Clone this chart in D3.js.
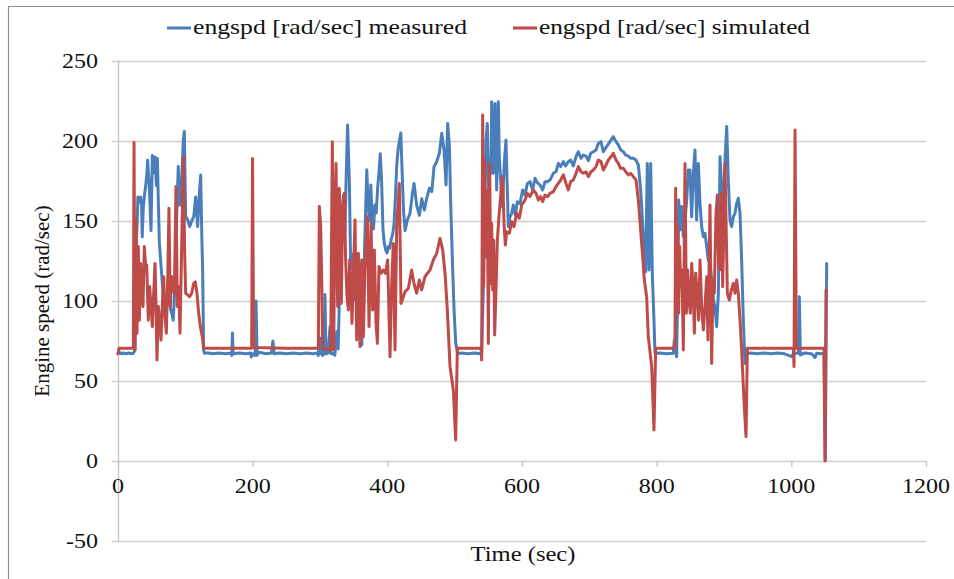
<!DOCTYPE html>
<html>
<head>
<meta charset="utf-8">
<script src="https://cdn.jsdelivr.net/npm/d3@7"></script>
<style>
  html, body { margin: 0; padding: 0; background: #fff; }
  svg { display: block; }
  text { font-family: "Liberation Serif", "Times New Roman", serif; fill: #111; }
</style>
</head>
<body>
<svg id="chart" width="954" height="579"></svg>
<script>
// Engine speed over the drive cycle: [time (sec), speed (rad/sec)]
const measuredPoints = [
  [0,67],[2,68],[5,67],[8,67.5],[12,67],[16,67.5],[20,67],[23,67.5],
  [25.2,69.4],[27,134],[28.5,150],[29.5,165],[31.5,162],[33.5,165],[35,160],[36,140],[37.5,158],[39,165],
  [41,171.5],[43,180],[44,188],[46.5,171.5],[48,155],[49,144],[51,191],[53,180],[55,190],[57,172],
  [58.5,189],[60,160],[61.5,136],[64,121.5],[67,105],[70,94],[73,98],[76,100.6],[78,95],[80,92],
  [82,88],[84.5,109],[87,150],[89.5,184],[91.5,160],[94,170],[97,200.6],[98.5,206],[100.5,153],
  [103.5,150.6],[106.5,146.5],[109.5,150],[112.5,152.7],[115.3,165],[118.3,146.5],[120.5,165],
  [122.8,178.75],[124.5,140],[125.7,119.4],[127.2,69.4],[128.2,67.3],[130,67.5],
  [135,67.5],[140,67],[150,67.5],[160,67],[168,67.5],[169,66],[170,80],[171,67],[180,67.5],[190,67],
  [197,67.5],[198,65],[200,67],[203.5,66],[205,100],[206.5,66],[209,68],[215,67.5],[220,67],[228,67.5],
  [230,75],[232,67],[240,67.5],[250,67],[260,67.5],[270,67],[280,67.5],[290,67],[296,67.5],[297.5,66],
  [299,77],[301,67],[302.5,77],[304,66],[306,67],[307.4,104],[308.8,67],[312,67.5],[314.9,84],[316.5,67],
  [320,67],[322,66],[325,81],[327,70],[329.6,116],[332,140],[334.7,166],[337,143],[339,180],[341,210],
  [343.6,175],[345.6,120],[348.5,129],[351,115],[353,100],[355,120],[357,91],[359,110],[362,72.5],
  [364,90],[366,130],[368,160],[369.5,182],[371.5,160],[373.5,150],[375.5,172.5],[377.5,150],
  [379.5,145],[381.5,160],[383.5,155],[385.5,170],[387.5,180],[389.5,192],[391.5,175],[393.5,145],
  [395.5,136],[397.5,132],[399.5,130],[401.5,134],[403.5,133],[405.5,138],[408,142],[410,148],
  [412,165],[414,185],[416,195],[418,200],[420,205],[422,180],[424,157],[426.3,144],[429.7,150.6],
  [433.7,154.8],[437.2,167],[439.7,173.5],[443.6,159.8],[447.6,153.5],[451.1,163.9],[455,156.9],
  [458.5,164.2],[462.5,170.5],[466,168.4],[469.4,184],[473.4,187.2],[477.3,192.4],[480.8,204.8],
  [484.2,194.4],[487.2,172.5],[489.6,211],[492.2,196.5],[494.1,161],[496.6,125.6],[499.1,94.4],
  [501.6,73.5],[504.5,67],[510,67.5],[520,67],[530,67.5],[538,67],
  [540.1,67.3],[542.6,109],[545,169.4],[546.5,200.6],[548.5,211],[550.5,169.4],[552.5,190.2],
  [554,179.8],[555,224.6],[556.4,190.2],[557.4,179.8],[558.9,200.6],[559.9,223.5],[561.4,190.2],
  [562.4,169.4],[563.9,200.6],[564.8,224.6],[566.3,190.2],[568.3,175.6],[570.8,159],[572.3,173.5],
  [574.3,190.2],[576.2,200.6],[578.2,169.4],[579.7,146.5],[582.2,152.7],[584.7,154.8],[587.1,160],
  [590.1,153.75],[593.1,162.1],[597,161],[601,169.4],[604.5,166.2],[608,173.5],[611.9,174.6],
  [615.8,169.4],[619.3,176.7],[622.8,174],[626.7,172.5],[630.7,169.4],[634.2,174.6],[637.6,174.6],
  [641.6,175.6],[646.5,179.8],[650.5,180.8],[654,186],[657.4,184],[661.4,187.1],[664.8,184.4],
  [668.8,187.1],[672.3,188.1],[676.2,184.4],[680.2,190.2],[683.7,193.3],[687.6,189.2],[691.1,191.2],
  [695,190.6],[698.5,187.7],[702,192.3],[706,193.3],[709.9,194.4],[713.4,198.5],[717.3,199.6],
  [720.8,193.3],[724.8,196],[728.2,198.1],[732.2,200.6],[735.6,202.7],[739.6,199.6],[743.1,197.5],
  [746.5,194.4],[750.5,193.3],[754,191.2],[757.9,190.6],[761.4,189.2],[765.3,189.2],[769.3,188.1],
  [772.8,185],[776.2,169.4],[779.2,148.5],[781.7,127.7],[783.7,118.3],[786.1,186],[788.6,119.4],
  [791.1,186],[793.5,117.3],[796,88],[797.5,67.3],[805,67.5],[815,67],[824.8,67.3],
  [826.2,75.6],[828.2,69.4],[829.7,65.2],[831.7,119.4],[832.7,163.1],[834.7,144.4],[837.1,159],
  [839.6,140.2],[842.1,150.6],[844.6,163.1],[847,181.9],[849.5,181.9],[852,152.7],[854.5,179.8],
  [856.9,194.4],[859.4,150.6],[861.9,186],[864.4,161],[866.8,146.5],[869.3,140.2],[871.8,142.3],
  [874.3,134],[876.7,125.6],[879.2,123.5],[881.7,113.1],[884.2,100.6],[886.6,96.5],[889.1,84],
  [891.6,104.8],[894.1,190.2],[896.5,171.5],[899,156.9],[901.5,188.1],[904,209],[906.4,175.6],
  [908.9,150.6],[911.4,146.5],[913.9,152.7],[916.3,154.8],[918.8,161],[921.3,164.2],[923.8,154.8],
  [926.2,125.6],[928.7,88],[931.2,61],[933.7,67.3],
  [940,67.5],[950,67],[960,67.5],[970,67],[980,67.5],[990,67],[1000.5,65.2],[1003,67.3],[1010.4,67.3],
  [1011.9,102.7],[1013.4,66.3],[1020,67.5],[1030,67],[1035.2,64.8],[1037.6,67.3],[1045,67],
  [1048.5,67.3],[1050.5,0.6],[1052.5,123.5]
];

const simulatedPoints = [
  [0,67],[1.5,70.4],[10,70.4],[22.8,70.4],[23.8,199],[25.2,69.4],[26.7,150.6],[28.2,79.8],[30.2,134],
  [31.7,88],[33.7,123.5],[35.2,104.8],[37.1,96.5],[39.1,134],[41.1,121.5],[42.6,122.5],[45,88],
  [47,109],[49,96.5],[51,84],[53,104.8],[55,123.5],[56.4,98.5],[57.9,63.1],[59.9,96.5],[61.9,88],
  [63.9,75.6],[65.8,96.5],[67.8,115.2],[69.8,90.2],[71.8,79.8],[73.8,113.1],[75.7,157.9],[77.7,96.5],
  [79.7,115.2],[81.7,109],[83.7,104.8],[86.1,171.5],[88.1,96.5],[90.1,109],[92.1,79.8],[94.1,123.5],
  [97,190.2],[99,129.8],[100.5,104.8],[103.5,103.8],[106.4,102.7],[109.4,104.8],[112.4,111],
  [114.8,112],[117.3,104.8],[119.8,92.3],[122.3,84],[125.2,77.7],[127.2,70.4],
  [150,70.4],[198.5,70.4],[199.8,189],[201.5,71],[250,70.4],[297.5,70.4],[299,159],[301,147.5],
  [302.5,115.2],[304,70.4],[315.9,69.4],[318.3,199.6],[320.3,69.4],[322.3,156.9],[323.8,186],
  [325.3,125.6],[326.2,96.5],[327.7,136],[328.7,170.4],[330.2,131.9],[331.7,98.5],[333.7,161],
  [336.1,167.3],[338.1,125.6],[340.1,102.7],[342.1,94.4],[344.1,125.6],[346,111],[347.5,86],
  [349.5,115.2],[352,150.6],[354.5,75.6],[357,129.8],[359.4,71.5],[361.9,125.6],[364.4,77.7],
  [366.8,121.5],[370.3,152.7],[372.8,84],[375.8,148.5],[378.2,94.4],[380.7,131.9],[383.2,86],
  [385.2,73.5],[387.6,121.5],[390.6,117.3],[394.1,119.4],[397.5,117.3],[400.5,125.6],[404,65.2],
  [406.5,111],[408.9,136],[411.4,69.4],[413.9,146.5],[417.8,173.5],[420.3,98.5],[423.8,102.7],
  [426.3,105.8],[431.2,107.9],[436.1,119.4],[439.6,111],[443.6,104.8],[447.5,113.1],[451,106.9],
  [456,115.2],[459.4,117.3],[463.4,119.4],[468.3,125.6],[473.3,129.8],[478.2,139.2],[482.2,131.9],
  [485.7,117.3],[489.1,94.4],[493.1,59],[498,44.4],[501.5,13.1],[504,70.4],[539.1,70.4],
  [540.1,63.1],[541.6,216.2],[543.1,109],[544.6,188.1],[546.5,127.7],[548.5,169.4],[550,73.5],
  [552,186],[553.5,111],[555,148.5],[556.4,106.9],[558,138],[559.4,78.8],[561.4,106.9],[563.4,138],
  [565.8,152.7],[567.8,163.1],[569.8,173.5],[571.3,177.7],[573.3,148.5],[575.3,135],[577.2,143.3],
  [581.2,142.3],[584.7,149.6],[588.1,146.5],[592.1,154.8],[596,151.7],[599.5,160],[604.5,163.1],
  [608,167.3],[611.9,165.2],[616.8,169.4],[620.8,167.3],[624.3,163.1],[627.7,165.2],[630.7,162.1],
  [634.2,166.2],[638.1,165.2],[641.6,167.3],[646.5,168.3],[650.5,171.5],[654,173.5],[657.4,175.6],
  [661.4,178.8],[665.3,173.5],[668.8,169.4],[672.3,174.6],[676.2,175.6],[680.2,179.8],[683.7,184],
  [687.6,180.8],[691.1,179.8],[695,180.8],[698.5,177.7],[702.5,180.8],[706,181.9],[709.9,184],
  [713.4,188.1],[717.3,187.1],[720.8,181.9],[724.8,185],[728.2,188.1],[732.2,190.2],[735.6,192.3],
  [739.6,188.1],[743.1,186],[746.5,182.9],[750.5,182.9],[754,180.8],[757.9,178.8],[761.4,179.8],
  [765.3,177.7],[769.3,175.6],[772.8,163.1],[776.2,144.4],[779.2,127.7],[781.7,113.1],[785.1,102.7],
  [787.6,77.7],[792.6,59],[796,19.4],[798.5,70.4],
  [827.2,70.4],[828.2,170.4],[829.7,96.5],[831.2,146.5],[832.7,92.3],[834.2,134],[835.6,109],
  [837.6,119.4],[839.6,69.4],[842.1,186],[844.1,92.3],[846,119.4],[848,100.6],[850,92.3],[852,123.5],
  [854,109],[856,79.8],[857.9,117.3],[860.4,104.8],[862.4,88],[864.4,125.6],[866.8,96.5],[869.3,81.9],
  [871.8,96.5],[874.3,115.2],[876.2,75.6],[879.2,160],[881.7,61],[883.7,113.1],[885.6,104.8],
  [888.1,154.8],[890.1,166.2],[892.1,121.5],[894.1,119.4],[896,167.3],[898,109],[900,150.6],
  [901.5,186],[903,150.6],[905,104.8],[907.9,100.6],[910.9,106.9],[913.9,111],[916.3,104.8],
  [918.8,113.1],[921.3,104.8],[923.8,88],[926.2,69.4],[928.7,46.5],[930.7,29.8],[932.7,15.2],
  [934.7,70.4],[1003,70.4],[1004,59],[1005.5,206.9],[1007.4,70.4],[1048.5,70.4],[1050,0],[1051.5,106.9]
];

const xTicks = [0, 200, 400, 600, 800, 1000, 1200];
const yTicks = [-50, 0, 50, 100, 150, 200, 250];
const seriesNames = ["engspd [rad/sec] measured", "engspd [rad/sec] simulated"];
const seriesColors = ["#4a7ebb", "#be4b48"];

const svg = d3.select("#chart");
const x = d3.scaleLinear().domain([0, 1200]).range([118, 926]);
const y = d3.scaleLinear().domain([-50, 250]).range([541, 61]);
const stretch = 1.2;   // labels are set slightly wide

// chart frame
svg.append("path")
  .attr("d", "M8.5,579 L8.5,6.5 L954,6.5")
  .attr("fill", "none").attr("stroke", "#8f8f8f").attr("stroke-width", 1.2);

// horizontal gridlines with short outward ticks
svg.append("g").selectAll("line").data(yTicks).join("line")
  .attr("x1", 112).attr("x2", x(1200))
  .attr("y1", d => y(d) + 0.5).attr("y2", d => y(d) + 0.5)
  .attr("stroke", "#cfcfcf").attr("stroke-width", 1.3);

// vertical axis line
svg.append("line")
  .attr("x1", x(0) + 0.5).attr("x2", x(0) + 0.5)
  .attr("y1", y(250)).attr("y2", y(-50))
  .attr("stroke", "#c4c4c4").attr("stroke-width", 1.3);

// x-axis ticks on the zero line
svg.append("g").selectAll("line").data(xTicks).join("line")
  .attr("x1", d => x(d) + 0.5).attr("x2", d => x(d) + 0.5)
  .attr("y1", y(0)).attr("y2", y(0) + 6)
  .attr("stroke", "#c4c4c4").attr("stroke-width", 1.3);

// y tick labels
svg.append("g").selectAll("text").data(yTicks).join("text")
  .attr("transform", d => `translate(98,${y(d) + 7}) scale(${stretch},1)`)
  .attr("text-anchor", "end").attr("font-size", 20)
  .text(d => d);

// x tick labels
svg.append("g").selectAll("text").data(xTicks).join("text")
  .attr("transform", d => `translate(${x(d)},${y(0) + 32}) scale(${stretch},1)`)
  .attr("text-anchor", "middle").attr("font-size", 20)
  .text(d => d);

// axis titles
svg.append("text")
  .attr("transform", `translate(523,561) scale(${stretch},1)`)
  .attr("text-anchor", "middle").attr("font-size", 20.5)
  .text("Time (sec)");
svg.append("text")
  .attr("transform", `translate(49,301) rotate(-90)`)
  .attr("text-anchor", "middle").attr("font-size", 21)
  .text("Engine speed (rad/sec)");

// series
const line = d3.line().x(d => x(d[0])).y(d => y(d[1]));
[measuredPoints, simulatedPoints].forEach((pts, i) => {
  svg.append("path")
    .datum(pts)
    .attr("d", line)
    .attr("fill", "none")
    .attr("stroke", seriesColors[i])
    .attr("stroke-width", 3)
    .attr("stroke-linejoin", "round")
    .attr("stroke-linecap", "round");
});

// legend
const legendX = [167, 513];
const legendW = [274, 271];
seriesNames.forEach((name, i) => {
  svg.append("line")
    .attr("x1", legendX[i]).attr("x2", legendX[i] + 24)
    .attr("y1", 28).attr("y2", 28)
    .attr("stroke", seriesColors[i]).attr("stroke-width", 3);
  svg.append("text")
    .attr("x", legendX[i] + 26).attr("y", 34)
    .attr("font-size", 21)
    .attr("textLength", legendW[i]).attr("lengthAdjust", "spacingAndGlyphs")
    .text(name);
});
</script>
</body>
</html>
